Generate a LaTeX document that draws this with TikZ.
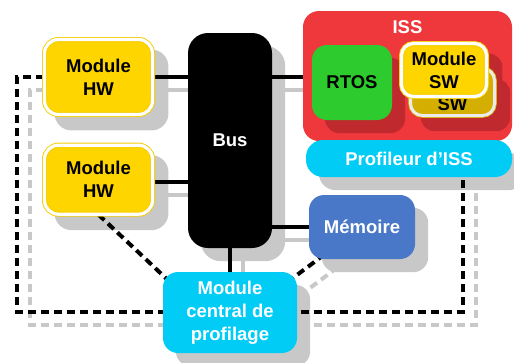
\documentclass[tikz,border=0pt]{standalone}
\usepackage{fontspec}
\setmainfont{Liberation Sans}
\definecolor{yel}{HTML}{FFD500}
\definecolor{yelline}{HTML}{F5CC00}
\definecolor{yeldark}{HTML}{D4AE00}
\definecolor{issred}{HTML}{EF383C}
\definecolor{darkred}{HTML}{C02A2E}
\definecolor{rtosgreen}{HTML}{2DCB2D}
\definecolor{cyanbox}{HTML}{00CCF5}
\definecolor{membl}{HTML}{4A78C8}
\definecolor{shgray}{HTML}{C8C8C8}
\pgfdeclarelayer{bg}\pgfdeclarelayer{cn}\pgfdeclarelayer{mid}\pgfdeclarelayer{fg}
\pgfsetlayers{bg,cn,main,mid,fg}
\begin{document}
\begin{tikzpicture}[x={(1pt,0pt)},y={(0pt,-1pt)},
 box/.style={rectangle,inner sep=0pt,align=center,font=\bfseries\fontsize{18.5pt}{23pt}\selectfont},
 hwbox/.style={box,fill=yel,draw=yelline,double=white,double distance=3.2pt,line width=0.9pt,rounded corners=14pt,text=black},
 swback/.style={box,fill=yeldark,draw=yeldark,double=white!92!black,double distance=3pt,line width=0.8pt,rounded corners=12pt,text=black},
 plainbox/.style={box,rounded corners=15pt},
 conn/.style={line width=4pt,black},
 connsh/.style={line width=4pt,shgray},
 dashb/.style={line width=4pt,black,dash pattern=on 8pt off 5pt},
 dashg/.style={line width=4pt,shgray,dash pattern=on 8pt off 5pt},
]
\useasboundingbox (0,0) rectangle (514,362);

% main boxes
\node[hwbox,minimum width=108pt,minimum height=75pt] (hw1) at (98.5,77) {Module\\HW};
\node[hwbox,minimum width=108pt,minimum height=69pt] (hw2) at (98.5,179.7) {Module\\HW};
\node[plainbox,fill=black,text=white,rounded corners=20pt,minimum width=84pt,minimum height=215pt] (bus) at (230,140.5) {Bus};
\node[plainbox,fill=issred,rounded corners=16pt,minimum width=209pt,minimum height=130pt] (iss) at (407.5,76) {};
\node[box,text=white] (isslbl) at (407.5,27) {ISS};
\node[plainbox,fill=cyanbox,text=white,rounded corners=17pt,minimum width=206pt,minimum height=37pt] (prof) at (409,158.5) {Profileur d’ISS};
\node[plainbox,fill=membl,text=white,minimum width=106pt,minimum height=64pt] (mem) at (362,227) {Mémoire};
\node[plainbox,fill=cyanbox,text=white,minimum width=134pt,minimum height=81pt] (central) at (230,312.5) {Module\\central de\\profilage};

% inner ISS boxes
\begin{pgfonlayer}{fg}
\node[plainbox,fill=rtosgreen,text=black,minimum width=80pt,minimum height=75pt] (rtos) at (352,82.5) {RTOS};
\node[swback,minimum width=84pt,minimum height=47pt] (swb) at (452.5,92) {Module\\SW};
\node[hwbox,rounded corners=12pt,minimum width=85pt,minimum height=53pt] (swf) at (444,70) {Module\\SW};
\end{pgfonlayer}

% dark red shadows inside ISS
\begin{pgfonlayer}{mid}
\fill[darkred,rounded corners=15pt] ([shift={(13,13)}]rtos.north west) rectangle ([shift={(13,13)}]rtos.south east);
\fill[darkred,rounded corners=14pt] ([shift={(10.7,10.7)}]swb.north west) rectangle ([shift={(15.3,15.3)}]swb.south east);
\fill[darkred,rounded corners=14pt] ([shift={(10.5,10.5)}]swf.north west) rectangle ([shift={(15.5,15.5)}]swf.south east);
\end{pgfonlayer}

% coordinates of the profiling loop
\coordinate (lp) at (17,312);
\coordinate (rp) at (463,312);

% black connectors
\begin{pgfonlayer}{cn}
\draw[conn] (hw1.east) -- (hw1.east -| bus.west);
\draw[conn] ([yshift=-2pt]hw2.east) -- ([yshift=-2pt]hw2.east -| bus.west);
\draw[conn] (bus.east |- hw1.east) -- (iss.west |- hw1.east);
\draw[conn] (bus.east |- mem.west) -- (mem.west);
\draw[conn] (bus.south) -- (central.north);
\draw[dashb] (hw1.west) -| (lp) -- (rp) -- (rp |- prof.south);
\draw[dashb] (hw2.south) -- ([shift={(8,11)}]central.north west);
\draw[dashb] ([shift={(16,-5)}]mem.south west) -- ([shift={(-8,9)}]central.north east);
\end{pgfonlayer}

% gray shadows
\begin{pgfonlayer}{bg}
\foreach \n/\e/\r in {hw1/2.5/17,hw2/2.5/17,bus/0/20,mem/0/15,central/0/15,prof/0/17}{
  \fill[shgray,rounded corners=\r pt] ([shift={({13-\e},{13-\e})}]\n.north west) rectangle ([shift={({13+\e},{13+\e})}]\n.south east);
}
\begin{scope}[transform canvas={shift={(13pt,-13pt)}}]
\draw[connsh] (hw1.east) -- (hw1.east -| bus.west);
\draw[connsh] ([yshift=-2pt]hw2.east) -- ([yshift=-2pt]hw2.east -| bus.west);
\draw[connsh] (bus.east |- hw1.east) -- (iss.west |- hw1.east);
\draw[connsh] (bus.east |- mem.west) -- (mem.west);
\draw[connsh] (bus.south) -- (central.north);
\draw[dashg] (hw1.west) -| (lp) -- (rp) -- (rp |- prof.south);
\draw[dashg] ([shift={(16,-5)}]mem.south west) -- ([shift={(-8,9)}]central.north east);
\end{scope}
\end{pgfonlayer}
\end{tikzpicture}
\end{document}
